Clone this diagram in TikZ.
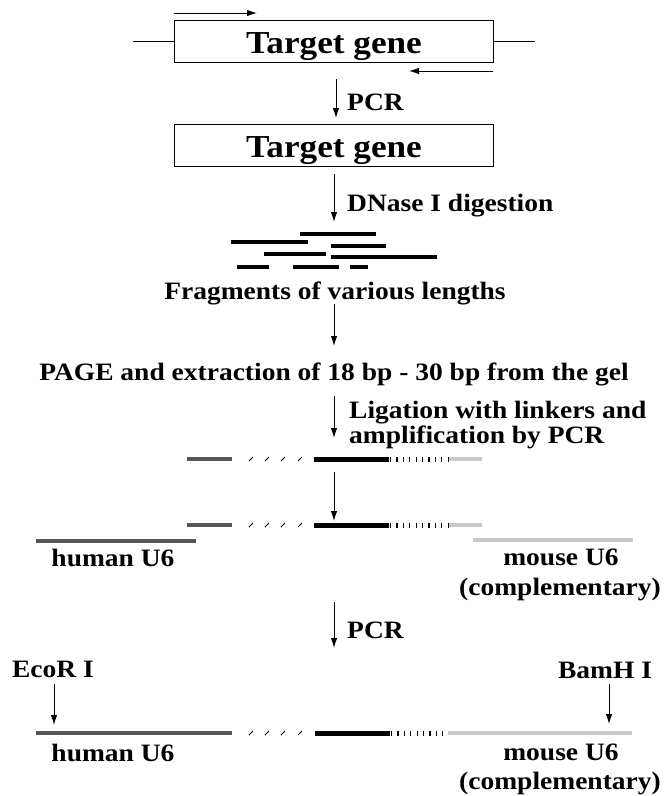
\documentclass[tikz,border=0pt]{standalone}
\usepackage{fontspec}
\setmainfont{Liberation Serif}[FakeStretch=1.1]
\usetikzlibrary{arrows.meta}
\definecolor{dg}{HTML}{555555}
\definecolor{lg}{HTML}{C8C8C8}
\begin{document}
\begin{tikzpicture}[x=1pt,y=-1pt,
  lbl/.style={font=\fontsize{25}{28}\selectfont\bfseries, inner sep=0pt},
  big/.style={font=\fontsize{32}{36}\selectfont\bfseries, inner sep=0pt},
  arr/.style={-{Latex[length=10pt,width=6.5pt]}, line width=1pt},
  thin/.style={line width=0.9pt},
  frag/.style={line width=4.5pt},
  dgbar/.style={line width=4pt, draw=dg},
  lgbar/.style={line width=4pt, draw=lg},
  blbar/.style={line width=5pt},
  ticks/.style={line width=5pt, dash pattern=on 1.2pt off 5.2pt},
  slash/.style={line width=0.9pt}]
\useasboundingbox (0,0) rectangle (669,796);

% top box
\node[draw, thin, minimum width=319pt, minimum height=42pt, inner sep=0pt] (box1) at (333.5,41) {};
\node[big, anchor=base] (t1) at (334,53) {Target gene};
\coordinate (l1) at (133,41); \coordinate (r1) at (535,41);
\draw[thin] (l1) -- (box1.west);
\draw[thin] (box1.east) -- (r1);
\coordinate (fp1) at (174,13); \coordinate (fp2) at (257,13);
\draw[arr] (fp1) -- (fp2);
\coordinate (rp1) at (493,71); \coordinate (rp2) at (409,71);
\draw[arr] (rp1) -- (rp2);

% PCR
\coordinate (a1s) at (336,79); \coordinate (a1e) at (336,118);
\draw[arr] (a1s) -- (a1e);
\node[lbl, anchor=base west] (pcr1) at (347,110) {PCR};

% second box
\node[draw, thin, minimum width=319pt, minimum height=42pt, inner sep=0pt] (box2) at (333.5,145) {};
\node[big, anchor=base] (t2) at (334,157) {Target gene};

% DNase
\coordinate (a2s) at (334,174); \coordinate (a2e) at (334,222);
\draw[arr] (a2s) -- (a2e);
\node[lbl, anchor=base west] (dn) at (347,211) {DNase I digestion};

% fragments
\coordinate (f1a) at (300,234); \coordinate (f1b) at (376,234);
\coordinate (f2a) at (231,242); \coordinate (f2b) at (308,242);
\coordinate (f3a) at (331,246); \coordinate (f3b) at (386,246);
\coordinate (f4a) at (264,254); \coordinate (f4b) at (326,254);
\coordinate (f5a) at (331,257); \coordinate (f5b) at (437,257);
\coordinate (f6a) at (237,267); \coordinate (f6b) at (269,267);
\coordinate (f7a) at (293,267); \coordinate (f7b) at (339,267);
\coordinate (f8a) at (350,267); \coordinate (f8b) at (368,267);
\foreach \i in {1,...,8} \draw[frag] (f\i a) -- (f\i b);
\node[lbl, anchor=base] (frg) at (335,299) {Fragments of various lengths};

\coordinate (a3s) at (334,304); \coordinate (a3e) at (334,346);
\draw[arr] (a3s) -- (a3e);
\node[lbl, anchor=base] (page) at (334,380) {PAGE and extraction of 18 bp - 30 bp from the gel};

\coordinate (a4s) at (334,396); \coordinate (a4e) at (334,438);
\draw[arr] (a4s) -- (a4e);
\node[lbl, anchor=base west] (lig1) at (349,418) {Ligation with linkers and};
\node[lbl, anchor=base west] (lig2) at (349,443) {amplification by PCR};

% row 1 and row 2
\foreach \y/\nm in {459/ra, 525/rb} {
  \coordinate (\nm d1) at (187,\y); \coordinate (\nm d2) at (232,\y);
  \coordinate (\nm b1) at (314,\y); \coordinate (\nm b2) at (389,\y);
  \coordinate (\nm t1) at (390,\y); \coordinate (\nm t2) at (448,\y);
  \coordinate (\nm g1) at (449,\y); \coordinate (\nm g2) at (482,\y);
  \draw[dgbar] (\nm d1) -- (\nm d2);
  \draw[blbar] (\nm b1) -- (\nm b2);
  \draw[ticks] (\nm t1) -- (\nm t2);
  \draw[lgbar] (\nm g1) -- (\nm g2);
  \foreach \x in {251,267,283,300} \draw[slash] (\x-2,\y+2) -- (\x+2,\y-2);
}
\coordinate (a5s) at (334,472); \coordinate (a5e) at (334,521);
\draw[arr] (a5s) -- (a5e);

% U6 segments
\coordinate (h1) at (36,541); \coordinate (h2) at (196,541);
\draw[dgbar] (h1) -- (h2);
\node[lbl, anchor=base] (hu1) at (113,566) {human U6};
\coordinate (m1) at (473,540); \coordinate (m2) at (633,540);
\draw[lgbar] (m1) -- (m2);
\node[lbl, anchor=base] (mu1) at (561,565) {mouse U6};
\node[lbl, anchor=base] (cp1) at (560,595) {(complementary)};

% PCR 2
\coordinate (a6s) at (334,602); \coordinate (a6e) at (334,648);
\draw[arr] (a6s) -- (a6e);
\node[lbl, anchor=base west] (pcr2) at (347,638) {PCR};

\node[lbl, anchor=base] (eco) at (53,677) {EcoR I};
\coordinate (e1) at (54,684); \coordinate (e2) at (54,725);
\draw[arr] (e1) -- (e2);
\node[lbl, anchor=base] (bam) at (605,678) {BamH I};
\coordinate (bm1) at (609,684); \coordinate (bm2) at (609,724);
\draw[arr] (bm1) -- (bm2);

% final construct
\coordinate (fd1) at (36,733); \coordinate (fd2) at (232,733);
\coordinate (fb1) at (315,733); \coordinate (fb2) at (390,733);
\coordinate (ft1) at (391,733); \coordinate (ft2) at (447,733);
\coordinate (fg1) at (448,733); \coordinate (fg2) at (632,733);
\draw[dgbar] (fd1) -- (fd2);
\draw[blbar] (fb1) -- (fb2);
\draw[ticks] (ft1) -- (ft2);
\draw[lgbar] (fg1) -- (fg2);
\foreach \x in {251,267,283,300} \draw[slash] (\x-2,735) -- (\x+2,731);
\node[lbl, anchor=base] (hu2) at (113,761) {human U6};
\node[lbl, anchor=base] (mu2) at (561,760) {mouse U6};
\node[lbl, anchor=base] (cp2) at (560,789) {(complementary)};
\end{tikzpicture}
\end{document}
